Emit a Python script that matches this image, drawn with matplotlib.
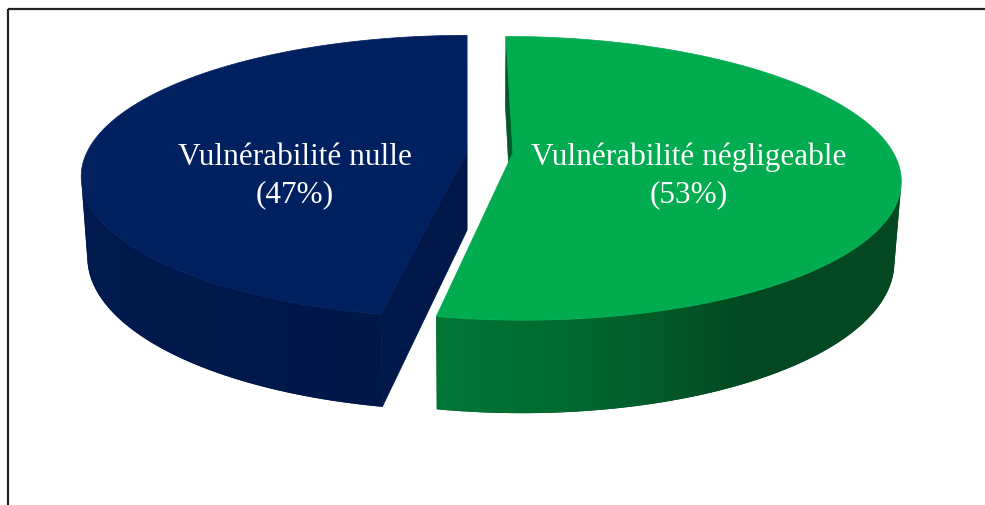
import numpy as np
import matplotlib
matplotlib.use('Agg')
import matplotlib.pyplot as plt
from matplotlib.patches import Polygon

# data
labels = ['Vulnérabilité négligeable', 'Vulnérabilité nulle']
values = [53, 47]

# styles (same order as data)
top_colors = ['#00AC4F', '#002060']
cut_colors = ['#005A2A', '#00184A']
side_stops = [
    [(255, (0, 122, 55)), (278, (0, 104, 46)), (300, (3, 72, 32)), (380, (3, 74, 34))],
    [(170, (0, 28, 84)), (262, (0, 24, 72))],
]

W, H = 985, 506
R = 380.0          # pie radius
thick = 86.0       # pie depth
phi = np.arcsin(137.0 / R)   # elevation
dist = R * np.cos(phi) / 0.18  # camera distance
explode = 23.0
X0, Y0 = 490.0, 153.0
cam_x = -explode

sphi, cphi = np.sin(phi), np.cos(phi)


def proj(x, y, z):
    w = -y * cphi + z * sphi
    u = y * sphi + z * cphi
    k = dist / (dist - w)
    return X0 + cam_x + (x - cam_x) * k, Y0 - u * k


def side_color(stops, a):
    angs = [s[0] for s in stops]
    cols = np.array([s[1] for s in stops], dtype=float)
    c = [np.interp(a, angs, cols[:, j]) for j in range(3)]
    return np.array(c) / 255.0


fig = plt.figure(figsize=(W / 100, H / 100), dpi=100)
ax = fig.add_axes([0, 0, 1, 1])
ax.axis('off')

# frame
ax.plot([8, W], [10, 10], color='#222222', lw=1.6, solid_capstyle='butt')
ax.plot([8, 8], [10, H], color='#222222', lw=1.6, solid_capstyle='butt')

total = float(sum(values))
start = 90.0
for i, v in enumerate(values):
    span = v / total * 360.0
    hi = start
    lo = start - span
    start = lo
    mid = np.radians((lo + hi) / 2)
    ox, oy = explode * np.cos(mid), explode * np.sin(mid)

    th = np.radians(np.linspace(lo, hi, 600))
    cx = ox + R * np.cos(th)
    cy = oy + R * np.sin(th)

    # radial cut faces
    for edge, nrm in [(hi, hi + 90), (lo, lo - 90)]:
        n = np.radians(nrm)
        dot = np.cos(n) * (cam_x - ox) + np.sin(n) * (-dist * cphi - oy)
        if dot > 1e-3:
            e = np.radians(edge)
            ex, ey = ox + R * np.cos(e), oy + R * np.sin(e)
            pts = [proj(ox, oy, 0), proj(ex, ey, 0), proj(ex, ey, -thick), proj(ox, oy, -thick)]
            ax.add_patch(Polygon(pts, closed=True, fc=cut_colors[i], ec=cut_colors[i], lw=0.5, zorder=1))

    # outer side, only the part facing the camera
    vis = np.cos(th) * (cam_x - ox) - np.sin(th) * (dist * cphi + oy) - R > 0
    if vis.sum() > 1:
        tx, ty = proj(cx[vis], cy[vis], 0)
        bx, by = proj(cx[vis], cy[vis], -thick)
        verts = np.r_[np.c_[tx, ty], np.c_[bx, by][::-1]]
        ang = (np.degrees(th[vis]) - 90) % 360 + 90
        base = side_color(side_stops[i], ang.mean())
        side = Polygon(verts, closed=True, fc=base, ec='none', zorder=1)
        ax.add_patch(side)
        # horizontal shading across the side
        xs = np.arange(np.floor(verts[:, 0].min()), np.ceil(verts[:, 0].max()) + 1)
        order = np.argsort(tx)
        a_x = np.interp(xs, tx[order], ang[order])
        img = np.array([side_color(side_stops[i], a) for a in a_x])[None, :, :]
        im = ax.imshow(img, extent=(xs[0], xs[-1], verts[:, 1].max() + 1, verts[:, 1].min() - 1),
                       aspect='auto', interpolation='bilinear', zorder=1.2)
        im.set_clip_path(side)

    # top face
    px, py = proj(np.r_[ox, cx], np.r_[oy, cy], 0)
    ax.add_patch(Polygon(np.c_[px, py], closed=True, fc=top_colors[i], ec=top_colors[i], lw=0.5, zorder=2))

    # label
    lx, _ = proj(ox + 0.46 * R * np.cos(mid), oy + 0.46 * R * np.sin(mid), 0)
    font = dict(family=['Liberation Serif', 'DejaVu Serif'], size=22.5, color='white',
                ha='center', va='baseline', zorder=3)
    ax.text(lx, Y0 + 12, labels[i], **font)
    ax.text(lx, Y0 + 49, '(%d%%)' % round(v / total * 100), **font)

ax.set_xlim(0, W)
ax.set_ylim(H, 0)
fig.savefig('out.png', dpi=100)
